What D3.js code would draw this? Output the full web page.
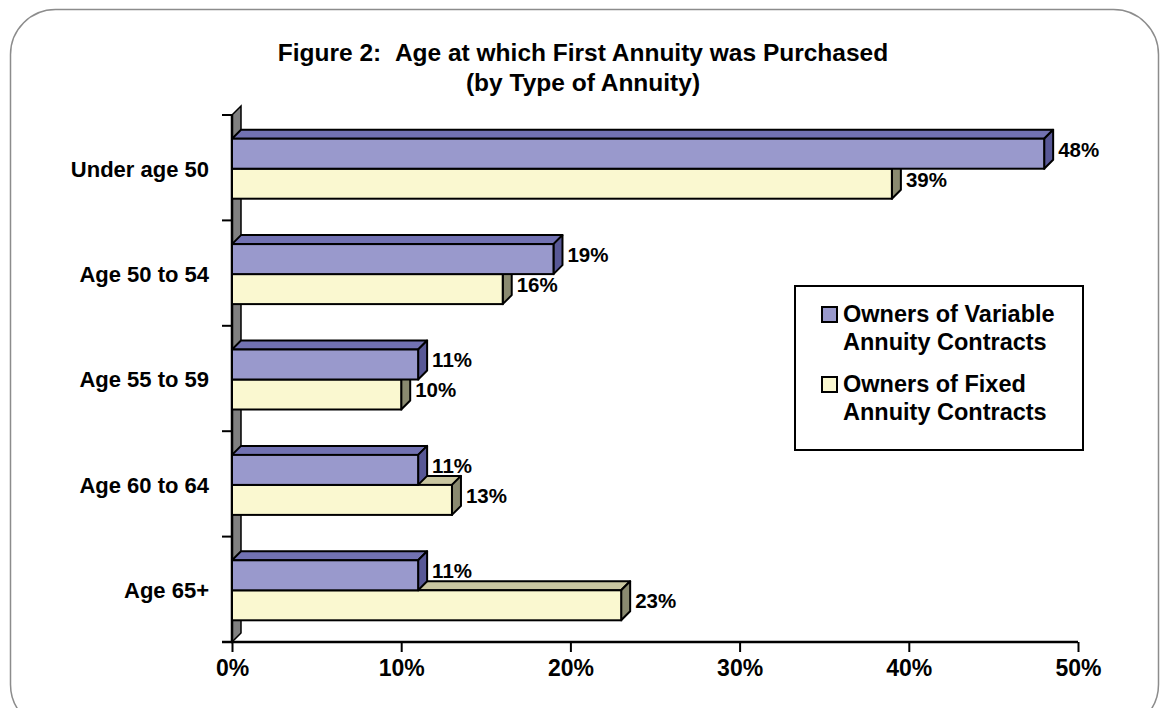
<!DOCTYPE html>
<html lang="en">
<head>
    <meta charset="UTF-8">
    <title>annuity-age-chart</title>
    <style>
        body {
            margin: 0;
            background: #fff;
            font-family: "Liberation Sans", Arial, sans-serif;
        }
    </style>
    <script src="https://d3js.org/d3.v7.min.js"></script>
</head>
<body>

<script>

    // data
    let categories = ["Under age 50", "Age 50 to 54", "Age 55 to 59", "Age 60 to 64", "Age 65+"]
    let seriesNames = ["Owners of Variable Annuity Contracts", "Owners of Fixed Annuity Contracts"]
    let legendLines = [["Owners of Variable", "Annuity Contracts"], ["Owners of Fixed", "Annuity Contracts"]]
    let variableValues = [48, 19, 11, 11, 11]
    let fixedValues = [39, 16, 10, 13, 23]
    let tickValues = [0, 10, 20, 30, 40, 50]

    let width = 1166;
    let height = 708;
    let depth = 9;   // 3d offset of bars and wall
    let barH = 30;

    let plotLeft = 232, plotRight = 1078, plotTop = 115, plotBottom = 642;

    let colors = {
        variable: {front: "#9999CC", top: "#7272B2", side: "#585896"},
        fixed: {front: "#FAF8D0", top: "#C9C6A0", side: "#8A8A70"}
    }

    let svg = d3.select("body").append("svg")
        .attr("width", width)
        .attr("height", height)

    // rounded outer frame
    svg.append("rect")
        .attr("x", 10.5).attr("y", 9.5)
        .attr("width", 1148).attr("height", 720)
        .attr("rx", 45).attr("ry", 45)
        .attr("fill", "white")
        .attr("stroke", "#8c8c8c")
        .attr("stroke-width", 1.5)

    // title
    let title = svg.append("text")
        .attr("text-anchor", "middle")
        .attr("font-weight", "bold")
        .attr("font-size", 24.5)
        .attr("fill", "#000")
    title.append("tspan").attr("x", 583).attr("y", 61)
        .text("Figure 2:\u00a0\u00a0Age at which First Annuity was Purchased")
    title.append("tspan").attr("x", 583).attr("y", 91).text("(by Type of Annuity)")

    let x = d3.scaleLinear().domain([0, 50]).range([plotLeft, plotRight])
    let y = d3.scaleBand().domain(categories).range([plotTop, plotBottom])
    let inner = d3.scaleBand().domain(seriesNames)
        .range([y.bandwidth() / 2 - barH + 1, y.bandwidth() / 2 + barH + 1])

    // side wall
    svg.append("path")
        .attr("d", `M${plotLeft},${plotTop}L${plotLeft + depth},${plotTop - depth}L${plotLeft + depth},${plotBottom - depth}L${plotLeft},${plotBottom}Z`)
        .attr("fill", "#808080")
        .attr("stroke", "#000")
        .attr("stroke-width", 1.5)

    // category ticks on the left
    let yTicks = categories.map(c => y(c)).concat([plotBottom])
    svg.append("g")
        .selectAll("line")
        .data(yTicks)
        .enter()
        .append("line")
        .attr("x1", plotLeft - 10).attr("x2", plotLeft)
        .attr("y1", d => d).attr("y2", d => d)
        .attr("stroke", "#000").attr("stroke-width", 2)

    svg.append("line")
        .attr("x1", plotLeft).attr("x2", plotLeft)
        .attr("y1", plotTop).attr("y2", plotBottom)
        .attr("stroke", "#000").attr("stroke-width", 2.5)

    // x axis
    let xAxis = svg.append("g")
        .attr("transform", `translate(0,${plotBottom})`)
        .call(d3.axisBottom(x).tickValues(tickValues).tickSize(10).tickFormat(d => d + "%"))
    xAxis.select(".domain").attr("stroke-width", 2.5).attr("d", `M${plotLeft - 10},0H${plotRight}`)
    xAxis.selectAll(".tick line").attr("stroke-width", 2)
    xAxis.selectAll(".tick text")
        .attr("font-family", "Liberation Sans, Arial, sans-serif")
        .attr("font-weight", "bold")
        .attr("font-size", 23)
        .attr("fill", "#000")
        .attr("y", 18)
        .attr("dy", "0.71em")

    // category labels
    svg.append("g")
        .selectAll("text")
        .data(categories)
        .enter()
        .append("text")
        .attr("x", 209)
        .attr("y", d => y(d) + y.bandwidth() / 2 + 1)
        .attr("dy", "0.36em")
        .attr("text-anchor", "end")
        .attr("font-weight", "bold")
        .attr("font-size", 22)
        .text(d => d)

    // 3d bar helper
    function bar3d(g, x0, x1, y0, h, c) {
        g.append("path")
            .attr("d", `M${x0},${y0}L${x0 + depth},${y0 - depth}L${x1 + depth},${y0 - depth}L${x1},${y0}Z`)
            .attr("fill", c.top).attr("stroke", "#000").attr("stroke-width", 2).attr("stroke-linejoin", "round")
        g.append("path")
            .attr("d", `M${x1},${y0}L${x1 + depth},${y0 - depth}L${x1 + depth},${y0 + h - depth}L${x1},${y0 + h}Z`)
            .attr("fill", c.side).attr("stroke", "#000").attr("stroke-width", 2).attr("stroke-linejoin", "round")
        g.append("rect")
            .attr("x", x0).attr("y", y0)
            .attr("width", x1 - x0).attr("height", h)
            .attr("fill", c.front).attr("stroke", "#000").attr("stroke-width", 2)
    }

    let bars = svg.append("g")
    categories.forEach(function (cat, i) {
        let g = bars.append("g")
        // fixed drawn first so the variable bar sits over its top face
        bar3d(g, x(0), x(fixedValues[i]), y(cat) + inner(seriesNames[1]), inner.bandwidth(), colors.fixed)
        bar3d(g, x(0), x(variableValues[i]), y(cat) + inner(seriesNames[0]), inner.bandwidth(), colors.variable)
    })

    // value labels
    let labels = svg.append("g")
        .attr("font-weight", "bold")
        .attr("font-size", 20.5)
    categories.forEach(function (cat, i) {
        [[variableValues[i], seriesNames[0]], [fixedValues[i], seriesNames[1]]].forEach(function (p) {
            labels.append("text")
                .attr("x", x(p[0]) + depth + 5)
                .attr("y", y(cat) + inner(p[1]) + inner.bandwidth() / 2 - depth / 2)
                .attr("dy", "0.36em")
                .text(p[0] + "%")
        })
    })

    // legend
    let legend = svg.append("g")
    legend.append("rect")
        .attr("x", 795).attr("y", 286)
        .attr("width", 288).attr("height", 164)
        .attr("fill", "white").attr("stroke", "#000").attr("stroke-width", 2)
    let legendColors = [colors.variable.front, colors.fixed.front]
    legendLines.forEach(function (lines, i) {
        let ly = 322 + i * 70
        legend.append("rect")
            .attr("x", 822).attr("y", ly - 15)
            .attr("width", 15).attr("height", 15)
            .attr("fill", legendColors[i]).attr("stroke", "#000").attr("stroke-width", 2)
        lines.forEach(function (t, j) {
            legend.append("text")
                .attr("x", 843).attr("y", ly + j * 28)
                .attr("font-weight", "bold")
                .attr("font-size", 23.5)
                .text(t)
        })
    })

</script>

</body>
</html>
